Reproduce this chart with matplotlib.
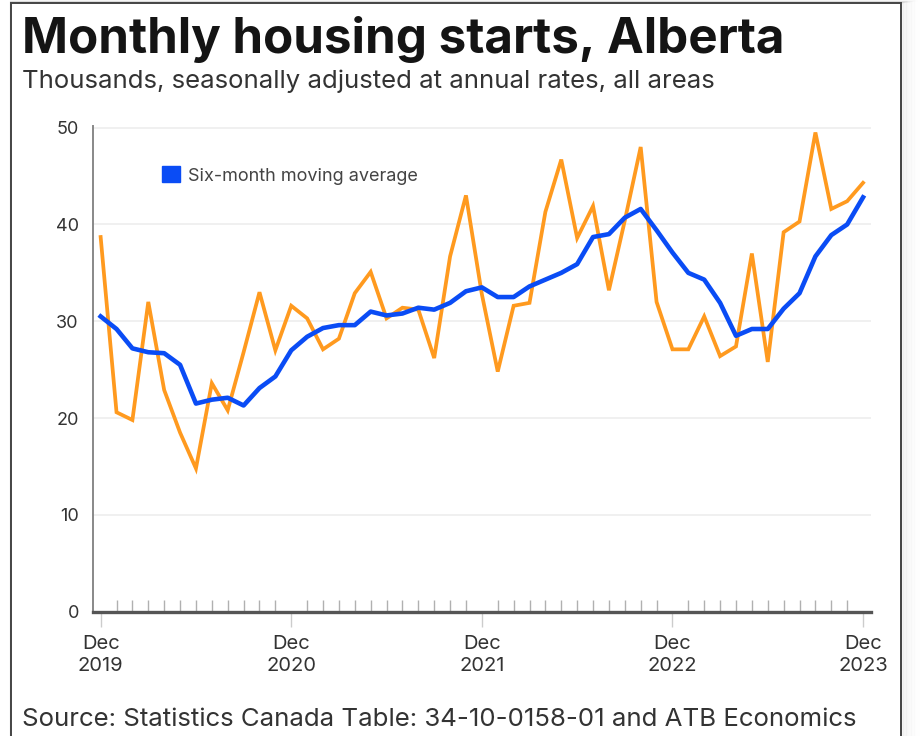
import matplotlib.pyplot as plt
from matplotlib.patches import Patch, Rectangle
import numpy as np

# Monthly housing starts, Alberta (thousands, SAAR), Dec 2019 .. Dec 2023
monthly = [38.7, 20.6, 19.8, 32.0, 22.9, 18.5, 14.8, 23.6, 20.8, 26.8,
           33.0, 27.0, 31.6, 30.3, 27.1, 28.2, 32.9, 35.1, 30.3, 31.4,
           31.2, 26.2, 36.7, 43.0, 32.8, 24.8, 31.6, 31.9, 41.3, 46.7,
           38.6, 41.9, 33.2, 40.4, 48.0, 32.0, 27.1, 27.1, 30.5, 26.4,
           27.4, 37.0, 25.8, 39.2, 40.3, 49.5, 41.6, 42.4, 44.3]
moving_avg = [30.5, 29.2, 27.2, 26.8, 26.7, 25.5, 21.5, 21.9, 22.1, 21.3,
              23.1, 24.3, 27.0, 28.4, 29.3, 29.6, 29.6, 31.0, 30.6, 30.8,
              31.4, 31.2, 31.9, 33.1, 33.5, 32.5, 32.5, 33.6, 34.3, 35.0,
              35.9, 38.7, 39.0, 40.7, 41.6, 39.4, 37.1, 35.0, 34.3, 31.9,
              28.5, 29.2, 29.2, 31.3, 32.9, 36.7, 38.9, 40.0, 42.8]
year_labels = ["Dec\n2019", "Dec\n2020", "Dec\n2021", "Dec\n2022", "Dec\n2023"]
y_ticks = [0, 10, 20, 30, 40, 50]

ORANGE = "#ff9a1f"
BLUE = "#0a4cf5"
FONT = "Inter"

W, H = 922, 736
fig = plt.figure(figsize=(W / 100, H / 100), dpi=100)
fig.patch.set_facecolor("white")

# card frame with a soft shadow on the right
for k in range(12):
    fig.patches.append(Rectangle((11 / W, -0.1), (890 + k * 1.6) / W, (733 + k * 0.2) / H + 0.1,
                                 transform=fig.transFigure, facecolor="none",
                                 edgecolor="black", lw=1.6, alpha=0.035 * (12 - k) / 12,
                                 zorder=0))
fig.patches.append(Rectangle((11 / W, -0.1), 890 / W, 733 / H + 0.1,
                             transform=fig.transFigure, facecolor="white",
                             edgecolor="#444444", lw=1.4, zorder=1))

ax = fig.add_axes([92.7 / W, (H - 611.7) / H, (871 - 92.7) / W, 486 / H])
ax.set_zorder(2)
ax.patch.set_alpha(0)

x = np.arange(len(monthly))
ax.plot(x, monthly, color=ORANGE, lw=2.7, solid_joinstyle="miter", zorder=3)
ax.plot(x, moving_avg, color=BLUE, lw=3.3, zorder=4)

ax.set_xlim(-0.5, 48.5)
ax.set_ylim(0, 50.2)

ax.set_yticks(y_ticks)
ax.set_yticklabels([str(v) for v in y_ticks], fontsize=13, color="#333333", family=FONT)
ax.tick_params(axis="y", length=0, pad=10)
for v in y_ticks[1:]:
    ax.axhline(v, color="#eeeeee", lw=1.2, zorder=1)

ax.set_xticks([0, 12, 24, 36, 48])
ax.set_xticklabels(year_labels, fontsize=14.5, color="#333333", family=FONT, linespacing=1.25)
ax.set_xticks([m for m in range(49) if m % 12 != 0], minor=True)
ax.tick_params(axis="x", which="major", direction="out", length=11, width=1, color="#cccccc", pad=6)
ax.tick_params(axis="x", which="minor", direction="in", length=9, width=1, color="#b0b0b0")

for s in ["top", "right"]:
    ax.spines[s].set_visible(False)
ax.spines["left"].set_color("#888888")
ax.spines["left"].set_linewidth(1.4)
ax.spines["bottom"].set_color("#555555")
ax.spines["bottom"].set_linewidth(2.4)

leg = ax.legend(handles=[Patch(color=BLUE, label="Six-month moving average")],
                loc="upper left", bbox_to_anchor=(0.068, 0.95), frameon=False,
                handlelength=1.0, handleheight=1.0, handletextpad=0.45,
                prop={"family": FONT, "size": 13})
for t in leg.get_texts():
    t.set_color("#444444")

fig.text(22 / W, 1 - 53 / H, "Monthly housing starts, Alberta", fontsize=35.5,
         fontweight="bold", family=FONT, color="#141414", va="baseline", zorder=5)
fig.text(22 / W, 1 - 88 / H, "Thousands, seasonally adjusted at annual rates, all areas",
         fontsize=18.5, family=FONT, color="#333333", va="baseline", zorder=5)
fig.text(22 / W, 1 - 726 / H, "Source: Statistics Canada Table: 34-10-0158-01 and ATB Economics",
         fontsize=18.6, family=FONT, color="#333333", va="baseline", zorder=5)

fig.savefig("out.png", dpi=100)
